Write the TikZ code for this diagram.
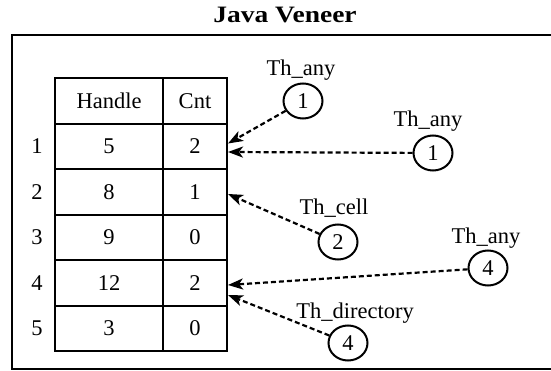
\documentclass[tikz,border=0pt]{standalone}
\usepackage{fontspec}
\setmainfont{Liberation Serif}
\usetikzlibrary{arrows.meta,shapes.geometric}

\begin{document}
\begin{tikzpicture}[x=1pt, y=-1pt, line width=2pt,
	every node/.style={font=\fontsize{22.5}{27}\selectfont},
	cell/.style={draw, rectangle, inner sep=0pt, minimum height=45.5pt},
	th/.style={draw, ellipse, inner sep=0pt, minimum width=39pt, minimum height=35pt},
	ref/.style={line width=2.2pt, dash pattern=on 5pt off 3pt, -{Stealth[length=15pt, width=11pt, inset=4pt]}}]
	\useasboundingbox (0,0) rectangle (551,371);

	\newcommand*{\rh}{45.5} % row height

	\node (title) at (285,15) {\fontsize{23.5}{28}\selectfont\scalebox{1.17}[1]{\bfseries Java Veneer}};
	\draw (12,35) rectangle (556,369);

	% handle table
	\node[cell, minimum width=108pt] (hh) at (109,101) {Handle};
	\node[cell, minimum width=64pt] (hc) at (195,101) {Cnt};
	\foreach \i/\h/\c in {1/5/2, 2/8/1, 3/9/0, 4/12/2, 5/3/0} {
		\node[cell, minimum width=108pt] (h\i) at (109,101+\rh*\i) {\h};
		\node[cell, minimum width=64pt] (c\i) at (195,101+\rh*\i) {\c};
		\node (n\i) at (37,101+\rh*\i) {\i};
	}

	% threads
	\node[th] (any1) at (303,101) {1};
	\node[th] (any1b) at (433,153) {1};
	\node[th] (cell2) at (338,242) {2};
	\node[th] (any4) at (488,268) {4};
	\node[th] (dir4) at (348,343) {4};
	\node (lany1) at (301,70) {Th\_any};
	\node (lany1b) at (428,121) {Th\_any};
	\node (lcell2) at (334,208) {Th\_cell};
	\node (lany4) at (486,238) {Th\_any};
	\node (ldir4) at (355,313) {Th\_directory};

	\draw[ref] (any1) -- ([yshift=3pt]c1.east);
	\draw[ref] (any1b) -- ([yshift=-5.5pt]c1.east);
	\draw[ref] (cell2) -- ([yshift=-2pt]c2.east);
	\draw[ref] (any4) -- ([yshift=-2pt]c4.east);
	\draw[ref] (dir4) -- ([yshift=-12pt]c4.east);

\end{tikzpicture}
\end{document}
